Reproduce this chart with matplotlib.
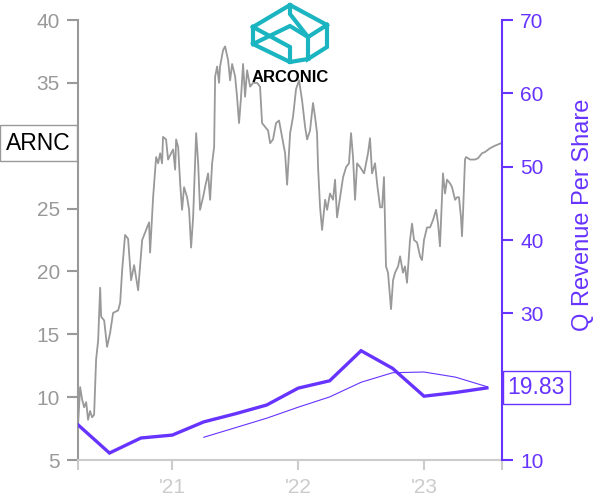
import matplotlib
matplotlib.use('Agg')
import matplotlib.pyplot as plt

plt.rcParams['font.family'] = ['Liberation Sans', 'DejaVu Sans']

# ARNC daily close (sampled), x in decimal years
price_t = [2020.251, 2020.267, 2020.283, 2020.299, 2020.315, 2020.330, 2020.346, 2020.362,
           2020.378, 2020.394, 2020.410, 2020.426, 2020.434, 2020.458, 2020.481, 2020.505,
           2020.529, 2020.569, 2020.585, 2020.601, 2020.624, 2020.648, 2020.672, 2020.696,
           2020.728, 2020.760, 2020.799, 2020.815, 2020.823, 2020.847, 2020.871, 2020.887,
           2020.903, 2020.918, 2020.926, 2020.950, 2020.966, 2020.990, 2021.006, 2021.022,
           2021.030, 2021.046, 2021.062, 2021.077, 2021.093, 2021.117, 2021.133, 2021.149,
           2021.165, 2021.189, 2021.205, 2021.220, 2021.244, 2021.260, 2021.284, 2021.300,
           2021.316, 2021.332, 2021.340, 2021.356, 2021.371, 2021.379, 2021.403, 2021.419,
           2021.443, 2021.459, 2021.475, 2021.499, 2021.514, 2021.530, 2021.546, 2021.562,
           2021.578, 2021.594, 2021.618, 2021.642, 2021.673, 2021.697, 2021.713, 2021.737,
           2021.761, 2021.777, 2021.800, 2021.824, 2021.848, 2021.872, 2021.896, 2021.912,
           2021.936, 2021.959, 2021.983, 2022.007, 2022.031, 2022.055, 2022.071, 2022.094,
           2022.118, 2022.134, 2022.150, 2022.158, 2022.174, 2022.190, 2022.214, 2022.230,
           2022.253, 2022.277, 2022.293, 2022.309, 2022.333, 2022.357, 2022.381, 2022.404,
           2022.420, 2022.436, 2022.452, 2022.468, 2022.492, 2022.524, 2022.555, 2022.571,
           2022.587, 2022.611, 2022.627, 2022.651, 2022.667, 2022.682, 2022.690, 2022.698,
           2022.714, 2022.730, 2022.738, 2022.754, 2022.770, 2022.794, 2022.810, 2022.833,
           2022.849, 2022.865, 2022.889, 2022.905, 2022.921, 2022.945, 2022.969, 2022.984,
           2023.000, 2023.024, 2023.048, 2023.072, 2023.096, 2023.112, 2023.127, 2023.151,
           2023.167, 2023.183, 2023.207, 2023.223, 2023.247, 2023.262, 2023.278, 2023.294,
           2023.302, 2023.310, 2023.326, 2023.334, 2023.366, 2023.405, 2023.429, 2023.461,
           2023.485, 2023.525, 2023.564, 2023.612]
price_v = [7.9, 10.8, 9.8, 9.2, 9.6, 8.2, 8.9, 8.4,
           8.6, 13.0, 14.5, 18.7, 16.4, 16.1, 14.0, 15.1,
           16.7, 16.9, 17.5, 20.1, 22.9, 22.6, 19.3, 20.5,
           18.5, 22.5, 23.5, 23.9, 21.5, 25.9, 29.1, 28.6,
           29.4, 28.6, 30.7, 30.5, 28.9, 29.4, 29.7, 28.1,
           30.5, 29.9, 27.0, 24.9, 26.7, 25.9, 24.9, 21.9,
           24.3, 31.0, 28.6, 24.9, 25.9, 26.7, 27.8, 25.7,
           28.6, 29.9, 35.5, 36.3, 35.0, 36.3, 37.6, 37.9,
           36.8, 35.2, 36.5, 35.5, 33.9, 31.8, 33.9, 36.5,
           33.9, 36.0, 34.7, 35.0, 35.0, 34.7, 31.8, 31.5,
           31.2, 30.2, 30.5, 31.8, 32.0, 30.7, 29.4, 26.9,
           31.0, 32.3, 34.5, 35.2, 33.6, 31.5, 30.5, 31.2,
           33.4, 32.3, 31.0, 28.3, 25.1, 23.3, 25.7, 24.9,
           26.2, 25.7, 27.3, 24.3, 25.9, 27.5, 28.3, 28.6,
           31.0, 29.1, 25.7, 28.6, 28.3, 27.8, 29.4, 30.6,
           27.8, 28.6, 27.0, 25.1, 25.1, 27.5, 23.8, 20.4,
           19.9, 18.0, 17.0, 19.3, 19.9, 20.4, 21.2, 19.9,
           20.4, 19.1, 22.5, 23.8, 22.5, 22.3, 21.2, 20.9,
           22.5, 23.5, 23.5, 24.1, 24.9, 23.8, 22.0, 27.8,
           26.2, 27.3, 27.0, 26.7, 25.7, 25.9, 25.9, 24.3,
           22.8, 24.6, 28.9, 29.1, 28.9, 28.9, 29.0, 29.4,
           29.5, 29.8, 30.0, 30.2]

# quarterly revenue per share
rev_t = [2020.25, 2020.5, 2020.75, 2021.0, 2021.25, 2021.5, 2021.75,
         2022.0, 2022.25, 2022.5, 2022.75, 2023.0, 2023.25, 2023.5]
rev_v = [14.8, 10.95, 13.0, 13.4, 15.2, 16.3, 17.5,
         19.8, 20.8, 24.9, 22.5, 18.7, 19.2, 19.83]

# trailing four-quarter average
avg_t = [2021.25, 2021.5, 2021.75, 2022.0, 2022.25, 2022.5, 2022.75,
         2023.0, 2023.25, 2023.5]
avg_v = [13.1, 14.4, 15.7, 17.2, 18.6, 20.6, 21.9, 22.0, 21.3, 20.0]

year_ticks = [2021, 2022, 2023]
year_labels = ["'21", "'22", "'23"]
x_start, x_end = 2020.25, 2023.62

purple = '#6633ff'
grey = '#999999'
light = '#cccccc'

fig = plt.figure(figsize=(6, 5), dpi=100)
ax = fig.add_axes([78/600, 40/500, 424/600, 440/500])
ax2 = ax.twinx()

# price line (left axis)
ax.plot(price_t, price_v, color=grey, lw=1.3)
ax.set_xlim(x_start, x_end)
ax.set_ylim(5, 40)
left_ticks = list(range(5, 41, 5))
ax.set_yticks(left_ticks)
# the 30 label sits under the ARNC tag
ax.set_yticklabels(['' if t == 30 else str(t) for t in left_ticks])
ax.tick_params(axis='y', colors=grey, labelsize=15, length=8, width=1.5, pad=5)
ax.set_xticks([x_start] + year_ticks + [x_end])
ax.set_xticklabels([''] + year_labels + [''])
ax.tick_params(axis='x', colors=light, labelcolor=light, labelsize=15, length=7, width=1.5, pad=6)
ax.spines['top'].set_visible(False)
ax.spines['right'].set_visible(False)
ax.spines['left'].set_color(grey)
ax.spines['left'].set_linewidth(1.5)
ax.spines['bottom'].set_color(light)
ax.spines['bottom'].set_linewidth(1.5)

# revenue per share (right axis)
ax2.plot(rev_t, rev_v, color=purple, lw=2.4, solid_joinstyle='miter')
ax2.plot(avg_t, avg_v, color=purple, lw=0.8)
ax2.set_ylim(10, 70)
right_ticks = list(range(10, 71, 10))
ax2.set_yticks(right_ticks)
# the 20 label sits under the value tag
ax2.set_yticklabels(['' if t == 20 else str(t) for t in right_ticks])
ax2.tick_params(axis='y', colors=purple, labelsize=15, length=8, width=1.5, pad=5)
for s in ['top', 'left', 'bottom']:
    ax2.spines[s].set_visible(False)
ax2.spines['right'].set_color(purple)
ax2.spines['right'].set_linewidth(1.5)
ax2.set_ylabel('Q Revenue Per Share', color=purple, fontsize=17, rotation=90)
ax2.yaxis.set_label_coords(1.165, 0.557)

# value tags
ax.annotate('ARNC', xy=(0, price_v[-1]), xycoords=('axes fraction', 'data'),
            xytext=(-5, 0), textcoords='offset points', ha='right', va='center',
            fontsize=16.5, color='black', annotation_clip=False, zorder=10,
            bbox=dict(boxstyle='square,pad=0.28', fc='white', ec=grey, lw=1))
ax2.annotate(f'{rev_v[-1]:.2f}', xy=(1, rev_v[-1]), xycoords=('axes fraction', 'data'),
             xytext=(4, 0), textcoords='offset points', ha='left', va='center',
             fontsize=16.5, color=purple, annotation_clip=False, zorder=10,
             bbox=dict(boxstyle='square,pad=0.22', fc='white', ec=purple, lw=1))

# logo
lg = fig.add_axes([0, 0, 1, 1], zorder=20)
lg.set_xlim(0, 600)
lg.set_ylim(500, 0)
lg.axis('off')
teal = '#1ab5c1'
segs = [
    [(253, 27), (290, 5), (327, 25), (327, 47), (308, 59), (308, 37), (327, 25)],
    [(290, 5), (290, 14), (308, 37)],
    [(253, 27), (253, 44), (290, 62), (308, 59)],
    [(253, 27), (290, 47), (290, 62)],
    [(253, 44), (290, 26), (308, 37)],
]
for s in segs:
    xs, ys = zip(*s)
    lg.plot(xs, ys, color=teal, lw=3, solid_joinstyle='miter', solid_capstyle='projecting')
lg.text(290, 77, 'ARCONIC', ha='center', va='center', fontsize=12,
        fontweight='bold', color='black')

fig.savefig('out.png', dpi=100)
